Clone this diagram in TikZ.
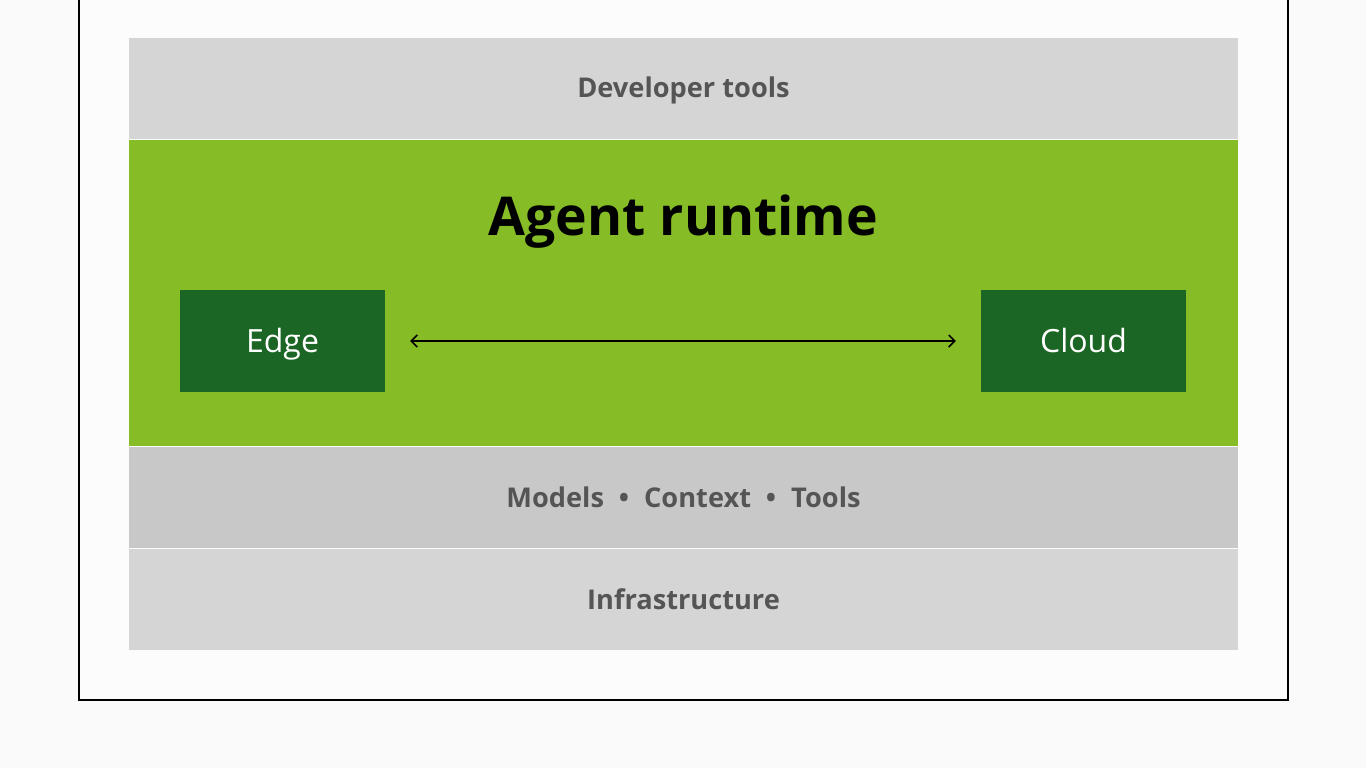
\documentclass[tikz,border=0pt]{standalone}
\usepackage{fontspec}
\setmainfont{Open Sans}
\usetikzlibrary{arrows.meta}
\definecolor{pagebg}{HTML}{FAFAFA}
\definecolor{framebg}{HTML}{FCFCFC}
\definecolor{bandlight}{HTML}{D5D5D5}
\definecolor{banddark}{HTML}{C8C8C8}
\definecolor{runtimegreen}{HTML}{86BC25}
\definecolor{boxgreen}{HTML}{1B6624}
\definecolor{labelgray}{HTML}{555555}
\tikzset{
  band/.style={fill=#1, draw=none, inner sep=0pt, minimum width=1109pt, minimum height=101pt, anchor=north west},
  bandtext/.style={text=labelgray, font=\fontsize{27.2}{32}\selectfont\bfseries, anchor=base, inner sep=0pt},
  placebox/.style={fill=boxgreen, draw=none, inner sep=0pt, minimum width=205pt, minimum height=102pt, text=white, font=\fontsize{32}{36}\selectfont, text height=24pt, text depth=2pt},
  link/.style={draw=black, line width=1.5pt, {Straight Barb[length=6pt,width=12pt]}-{Straight Barb[length=6pt,width=12pt]}},
}
\begin{document}
\begin{tikzpicture}[x=1pt,y=-1pt]
\useasboundingbox (0,0) rectangle (1366,768);
\fill[pagebg] (0,0) rectangle (1366,768);
\draw[line width=2pt, fill=framebg] (79,-10) -- (79,700) -- (1288,700) -- (1288,-10);
\node[band=bandlight] (dev) at (129,38) {};
\node[band=runtimegreen, minimum height=306pt] (runtime) at (129,140) {};
\node[band=banddark] (models) at (129,447) {};
\node[band=bandlight] (infra) at (129,549) {};
\node[bandtext] (devtext) at (683.5,97) {Developer tools};
\node[bandtext] (modelstext) at (683.5,507) {Models\hspace{0.55em}\textbullet\hspace{0.55em}Context\hspace{0.55em}\textbullet\hspace{0.55em}Tools};
\node[bandtext] (infratext) at (683.5,609) {Infrastructure};
\node[anchor=base, inner sep=0pt, font=\fontsize{53.5}{60}\selectfont\bfseries] (title) at (683.5,235) {Agent runtime};
\node[placebox] (edge) at (282.5,341) {Edge};
\node[placebox] (cloud) at (1083.5,341) {Cloud};
\draw[link] ([xshift=25pt]edge.east) -- ([xshift=-25pt]cloud.west);
\end{tikzpicture}
\end{document}
